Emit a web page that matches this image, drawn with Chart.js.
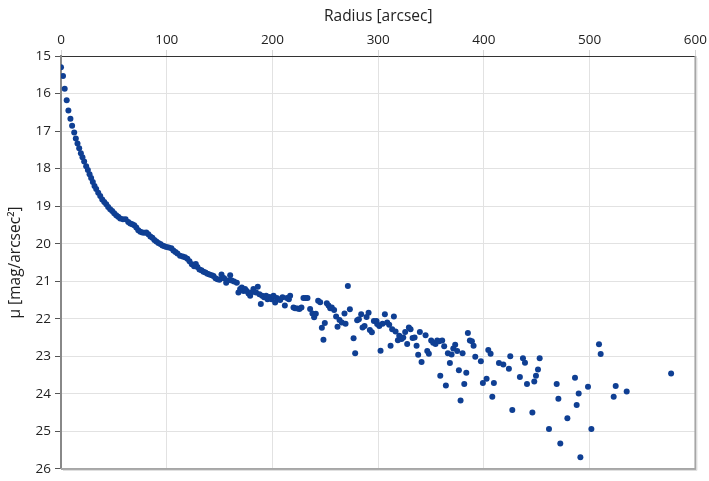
<!DOCTYPE html>
<html>
<head>
<meta charset="utf-8">
<title>Surface brightness profile</title>
<script src="https://cdn.jsdelivr.net/npm/chart.js@4.4.1/dist/chart.umd.min.js"></script>
<style>
  html, body { margin: 0; padding: 0; background: #ffffff; }
  #wrap { width: 709px; height: 481px; }
</style>
</head>
<body>
<div id="wrap"><canvas id="profile" width="709" height="481"></canvas></div>
<script>
// Radius [arcsec] of every isophote
const radius = [
  0, 1.9, 3.5, 5.4, 7.0, 8.9, 10.5, 12.5, 14.0, 15.6, 17.2, 18.8, 20.3, 21.9, 23.8, 25.4,
  27.0, 28.5, 30.1, 31.7, 33.3, 35.2, 37.1, 39.0, 40.9, 42.8, 44.6, 46.5, 48.4, 50.3, 52.2,
  54.1, 56.0, 58.6, 61.1, 63.6, 65.5, 67.4, 69.3, 71.2, 73.1, 75.0, 76.9, 78.8, 80.7, 82.6,
  84.5, 86.4, 88.3, 90.2, 92.1, 94.0, 95.9, 97.8, 99.7, 101.9, 104.4, 106.3, 108.2, 110.1,
  112.6, 115.1, 117.3, 119.5, 121.5, 123.7, 125.9, 127.5, 129.0, 130.9, 132.8, 134.7, 136.6,
  138.5, 140.4, 142.6, 144.2, 146.1, 148.0, 149.9, 151.8, 153.0, 154.3, 156.2, 157.7, 160.0,
  161.5, 163.7, 166.3, 167.8, 169.4, 171.0, 172.6, 174.1, 175.7, 177.3, 178.9, 180.1, 182.0,
  184.5, 186.1, 187.7, 189.0, 190.2, 192.1, 194.0, 195.3, 197.2, 199.1, 201.0, 202.5, 204.1,
  205.7, 207.3, 209.5, 211.7, 213.6, 215.5, 216.7, 219.9, 221.4, 223.7, 225.5, 227.4, 229.3,
  231.2, 233.1, 235.6, 237.8, 239.4, 241.0, 243.2, 245.1, 246.7, 248.2, 249.5, 251.4, 253.0,
  254.6, 256.1, 258.3, 260.2, 261.5, 263.4,
  265.6, 268.1, 269.1, 271.3, 273.2, 276.7, 278.2, 280.1, 281.7, 283.9, 285.2, 287.1, 289.0,
  290.9, 292.1, 294.0, 295.9, 298.4, 299.0, 301.0, 302.2, 304.1, 306.3, 308.5, 310.4, 311.7,
  313.2, 314.8, 316.4, 318.6, 319.9, 322.1, 323.7, 325.5, 327.4, 329.0, 330.6, 332.5, 334.4,
  336.3, 337.8, 339.4, 341.0, 344.8, 346.4, 347.9, 350.1, 352.0, 354.2, 355.8, 357.7, 358.7,
  360.5, 362.4, 364.0, 365.9, 367.8, 369.4, 371.0, 372.8, 374.7, 376.3, 377.9, 379.8, 381.4,
  383.3, 384.8, 386.7, 388.6, 390.2, 391.8, 397.1, 399.0, 402.5, 404.1, 406.3, 407.9, 409.4,
  414.2, 418.3, 423.6, 424.9, 426.8, 434.0,
  436.9, 438.8, 440.7, 445.8, 447.6, 449.2, 451.1, 452.7, 461.5, 468.8, 470.4, 472.2, 478.9,
  486.1, 487.7, 489.6, 491.2, 498.4, 501.6, 508.8, 510.4, 522.7, 524.6, 535.0, 577.0
];

// Surface brightness mu [mag/arcsec^2] for the same isophotes
const mu = [
  15.30, 15.53, 15.87, 16.18, 16.45, 16.67, 16.86, 17.04, 17.20, 17.33, 17.46, 17.59, 17.70, 17.81, 17.94, 18.04,
  18.15, 18.25, 18.36, 18.46, 18.54, 18.64, 18.73, 18.82, 18.89, 18.95, 19.02, 19.08, 19.13, 19.19, 19.24,
  19.28, 19.33, 19.35, 19.35, 19.42, 19.46, 19.48, 19.51, 19.57, 19.64, 19.68, 19.70, 19.71, 19.70, 19.75,
  19.81, 19.84, 19.90, 19.94, 19.98, 20.01, 20.05, 20.07, 20.09, 20.10, 20.12, 20.18, 20.22, 20.26,
  20.32, 20.34, 20.36, 20.40, 20.47, 20.55, 20.60, 20.54, 20.62, 20.69, 20.71, 20.75, 20.77,
  20.80, 20.82, 20.84, 20.86, 20.92, 20.95, 20.96, 20.82, 20.91, 20.92, 21.04, 20.98, 20.84,
  20.98, 21.01, 21.04, 21.30, 21.21, 21.17, 21.26, 21.21, 21.26, 21.33, 21.39, 21.30, 21.21,
  21.30, 21.15, 21.35, 21.61, 21.39, 21.43, 21.39, 21.48, 21.42, 21.48, 21.39, 21.57, 21.45,
  21.48, 21.50, 21.43, 21.65, 21.45, 21.48, 21.39, 21.70, 21.72, 21.73, 21.74, 21.70, 21.45,
  21.45, 21.45, 21.74, 21.86, 21.96, 21.87, 21.52, 21.56, 22.24, 22.56, 22.11, 21.59, 21.65,
  21.72, 21.70, 21.77, 21.94, 22.21, 22.03,
  22.10, 21.86, 22.13, 21.13, 21.75, 22.52, 22.92, 22.04, 22.01, 21.88, 22.23, 22.19, 21.95,
  21.84, 22.30, 22.36, 22.06, 22.06, 22.14, 22.19, 22.85, 22.13, 21.88, 22.10, 22.16, 22.72,
  22.28, 21.94, 22.34, 22.57, 22.45, 22.54, 22.50, 22.35, 22.67, 22.23, 22.28, 22.51, 22.50,
  22.72, 22.96, 22.35, 23.15, 22.44, 22.86, 22.93, 22.58, 22.64, 22.67, 22.58, 22.60, 23.52,
  22.58, 22.73, 23.78, 22.92, 23.18, 22.95, 22.79, 22.69, 22.86, 23.37, 24.18, 22.92, 23.74,
  23.44, 22.38, 22.58, 22.60, 22.72, 23.01, 23.13, 23.71, 23.60, 22.83, 22.93, 24.08, 23.71,
  23.18, 23.22, 23.33, 23.00, 24.43, 23.55,
  23.05, 23.17, 23.74, 24.50, 23.67, 23.52, 23.35, 23.05, 24.94, 23.74, 24.13, 25.32, 24.65,
  23.57, 24.30, 23.99, 25.69, 23.81, 24.94, 22.68, 22.94, 24.08, 23.79, 23.94, 23.46
];

// Tick labels on both axes
const radiusTicks = [0, 100, 200, 300, 400, 500, 600];
const muTicks = [15, 16, 17, 18, 19, 20, 21, 22, 23, 24, 25, 26];

const points = radius.map((r, i) => ({ x: r, y: mu[i] }));

// gray frame on the right and bottom edge of the plot area
const framePlugin = {
  id: 'frame',
  afterDraw(chart) {
    const { ctx, chartArea: a } = chart;
    ctx.save();
    ctx.strokeStyle = '#a6a6a6';
    ctx.lineWidth = 2;
    ctx.beginPath();
    ctx.moveTo(a.right, a.top);
    ctx.lineTo(a.right, a.bottom);
    ctx.lineTo(a.left, a.bottom);
    ctx.stroke();
    ctx.strokeStyle = '#dcdcdc';
    ctx.lineWidth = 1;
    ctx.beginPath();
    ctx.moveTo(a.right + 1.5, a.top + 2);
    ctx.lineTo(a.right + 1.5, a.bottom + 1.5);
    ctx.lineTo(a.left + 2, a.bottom + 1.5);
    ctx.stroke();
    ctx.restore();
  }
};

const tickFont = { family: "'Open Sans', 'Noto Sans', sans-serif", size: 13.5 };
const titleFont = { family: "'Open Sans', 'Noto Sans', sans-serif", size: 15.5 };

new Chart(document.getElementById('profile'), {
  type: 'scatter',
  data: {
    datasets: [{
      label: 'mu',
      data: points,
      backgroundColor: '#0f3f93',
      borderColor: '#0f3f93',
      borderWidth: 0,
      pointRadius: 3,
      pointHoverRadius: 3
    }]
  },
  options: {
    responsive: false,
    animation: false,
    devicePixelRatio: 1,
    layout: { padding: { left: 0, top: 0, right: 13, bottom: 8 } },
    plugins: {
      legend: { display: false },
      tooltip: { enabled: false }
    },
    scales: {
      x: {
        type: 'linear',
        position: 'top',
        min: 0,
        max: 600,
        afterBuildTicks: s => { s.ticks = radiusTicks.map(v => ({ value: v })); },
        afterFit: s => { s.height = 56; },
        ticks: { font: tickFont, color: '#222', padding: 2, maxRotation: 0 },
        grid: { color: '#e2e2e2', tickColor: '#d6d6d6', tickLength: 6 },
        border: { color: '#333', width: 1 },
        title: {
          display: true,
          text: 'Radius [arcsec]',
          font: titleFont,
          color: '#222',
          padding: { top: 7, bottom: 2 }
        }
      },
      y: {
        type: 'linear',
        reverse: true,
        min: 15,
        max: 26,
        afterBuildTicks: s => { s.ticks = muTicks.map(v => ({ value: v })); },
        afterFit: s => { s.width = 61; },
        ticks: { font: tickFont, color: '#222', padding: 4 },
        grid: { color: '#e2e2e2', tickColor: '#555', tickLength: 6 },
        border: { color: '#888', width: 2 },
        title: {
          display: true,
          text: 'μ [mag/arcsec²]',
          font: titleFont,
          color: '#222',
          padding: { top: 6, bottom: 0 }
        }
      }
    }
  },
  plugins: [framePlugin]
});
</script>
</body>
</html>
